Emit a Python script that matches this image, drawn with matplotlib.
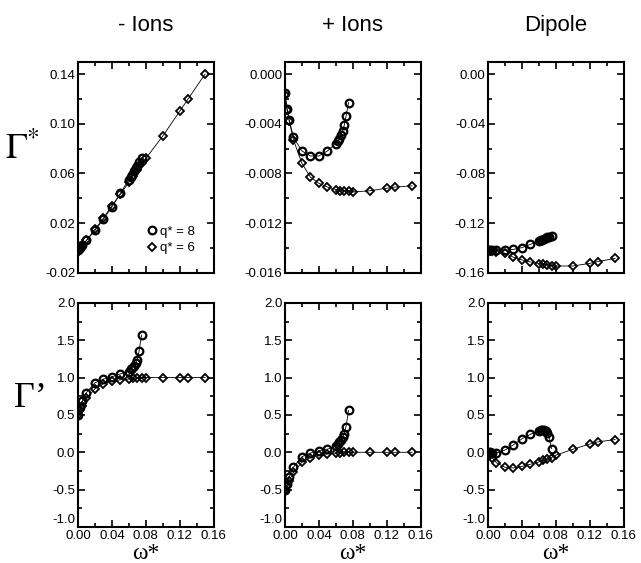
import matplotlib
matplotlib.use('Agg')
import matplotlib.pyplot as plt
import matplotlib.transforms as mtransforms
from matplotlib.ticker import MultipleLocator, FormatStrFormatter

plt.rcParams['font.family'] = 'Liberation Sans'
plt.rcParams['axes.unicode_minus'] = False
plt.rcParams['mathtext.fontset'] = 'stix'

# omega* values
w8 = [0, 0.0025, 0.005, 0.01, 0.02, 0.03, 0.04, 0.05, 0.06, 0.062, 0.064, 0.066, 0.068, 0.07, 0.072, 0.075]
w6 = [0, 0.0025, 0.005, 0.01, 0.02, 0.03, 0.04, 0.05, 0.06, 0.065, 0.07, 0.075, 0.08, 0.10, 0.12, 0.13, 0.15]

# Gamma* (top row)
gs_neg_8 = [-0.002, 0.0, 0.002, 0.006, 0.014, 0.023, 0.033, 0.044, 0.055, 0.057, 0.059, 0.062, 0.064, 0.066, 0.069, 0.072]
gs_neg_6 = [-0.003, -0.001, 0.001, 0.006, 0.015, 0.024, 0.034, 0.043, 0.053, 0.058, 0.063, 0.068, 0.072, 0.090, 0.110, 0.120, 0.140]
gs_pos_8 = [-0.0015, -0.0028, -0.0037, -0.0051, -0.0062, -0.0066, -0.0066, -0.0062, -0.0056, -0.0054, -0.0052, -0.0049, -0.0046, -0.0041, -0.0034, -0.0023]
gs_pos_6 = [-0.0017, -0.0029, -0.0038, -0.0053, -0.0072, -0.0083, -0.0088, -0.0091, -0.0093, -0.0094, -0.0094, -0.0094, -0.0095, -0.0094, -0.0092, -0.0091, -0.0090]
gs_dip_8 = [-0.142, -0.142, -0.142, -0.142, -0.1418, -0.1412, -0.1398, -0.1372, -0.1345, -0.134, -0.1333, -0.1325, -0.132, -0.1315, -0.131, -0.1305]
gs_dip_6 = [-0.142, -0.1422, -0.1425, -0.143, -0.1443, -0.1475, -0.1497, -0.1513, -0.1526, -0.153, -0.1535, -0.1545, -0.1546, -0.1546, -0.1525, -0.151, -0.1485]

# Gamma' (bottom row)
gp_neg_8 = [0.5, 0.6, 0.68, 0.8, 0.93, 0.98, 1.01, 1.05, 1.08, 1.11, 1.13, 1.16, 1.2, 1.24, 1.35, 1.57]
gp_neg_6 = [0.5, 0.57, 0.62, 0.72, 0.85, 0.92, 0.95, 0.97, 0.98, 0.99, 1.0, 1.0, 1.0, 1.0, 1.0, 1.0, 1.0]
gp_pos_8 = [-0.5, -0.42, -0.33, -0.2, -0.06, -0.01, 0.02, 0.04, 0.09, 0.11, 0.14, 0.17, 0.2, 0.25, 0.34, 0.56]
gp_pos_6 = [-0.5, -0.45, -0.38, -0.27, -0.13, -0.07, -0.04, -0.02, -0.01, -0.01, 0.0, 0.0, 0.0, 0.0, 0.0, 0.0, 0.0]
gp_dip_8 = [0.0, 0.0, -0.01, -0.01, 0.03, 0.1, 0.18, 0.24, 0.29, 0.3, 0.3, 0.3, 0.29, 0.26, 0.2, 0.05]
gp_dip_6 = [0.0, -0.03, -0.07, -0.14, -0.2, -0.21, -0.19, -0.16, -0.13, -0.11, -0.09, -0.07, -0.04, 0.04, 0.11, 0.14, 0.17]

titles = ['- Ions', '+ Ions', 'Dipole']
top_data = [(gs_neg_8, gs_neg_6), (gs_pos_8, gs_pos_6), (gs_dip_8, gs_dip_6)]
bot_data = [(gp_neg_8, gp_neg_6), (gp_pos_8, gp_pos_6), (gp_dip_8, gp_dip_6)]
top_lims = [(-0.02, 0.15), (-0.016, 0.001), (-0.16, 0.01)]
top_major = [0.04, 0.004, 0.04]
top_fmt = ['%.2f', '%.3f', '%.2f']
top_first = [-0.02, -0.016, -0.16]

fig = plt.figure(figsize=(6.41, 5.63), dpi=100)
lefts = [0.1217, 0.4446, 0.7613]
w = 0.2115


def style(ax):
    ax.set_xlim(0, 0.16)
    ax.xaxis.set_major_locator(MultipleLocator(0.04))
    ax.xaxis.set_minor_locator(MultipleLocator(0.02))
    ax.xaxis.set_major_formatter(FormatStrFormatter('%.2f'))
    ax.tick_params(which='both', direction='in', top=True, right=True, labelsize=9.5, width=1.2)
    ax.tick_params(which='major', length=5, pad=2)
    ax.tick_params(which='minor', length=3)
    for s in ax.spines.values():
        s.set_linewidth(1.5)


def draw(ax, y8, y6):
    ax.plot(w6, y6, '-', color='black', lw=0.6)
    ax.plot(w8, y8, '-', color='black', lw=0.6)
    ax.plot(w8, y8, 'o', mfc='none', mec='black', mew=1.6, ms=5.5, label='q* = 8')
    ax.plot(w6, y6, 'D', mfc='none', mec='black', mew=1.3, ms=4, label='q* = 6')


for i in range(3):
    ax = fig.add_axes([lefts[i], 0.5156, w, 0.375])
    draw(ax, *top_data[i])
    style(ax)
    ax.set_ylim(*top_lims[i])
    ax.yaxis.set_major_locator(MultipleLocator(top_major[i], offset=top_first[i]))
    ax.yaxis.set_minor_locator(MultipleLocator(top_major[i] / 2))
    ax.yaxis.set_major_formatter(FormatStrFormatter(top_fmt[i]))
    ax.tick_params(labelbottom=False)
    ax.set_title(titles[i], fontsize=16, pad=22)
    if i == 0:
        ax.set_ylabel(r'$\Gamma^{*}$', fontsize=26, rotation=0, labelpad=16)
        ax.legend(loc='lower right', frameon=False, fontsize=9.5, handlelength=0.6,
                  handletextpad=0.3, labelspacing=0.3, borderaxespad=1.0)

    ax = fig.add_axes([lefts[i], 0.064, w, 0.398])
    draw(ax, *bot_data[i])
    style(ax)
    ax.set_ylim(-1, 2)
    ax.yaxis.set_major_locator(MultipleLocator(0.5))
    ax.yaxis.set_minor_locator(MultipleLocator(0.25))
    ax.yaxis.set_major_formatter(FormatStrFormatter('%.1f'))
    ax.set_xlabel('ω*', fontsize=17, family='Liberation Serif', labelpad=1)
    if i == 0:
        ax.set_ylabel('Γ’', fontsize=26, family='Liberation Serif', rotation=0, labelpad=16)
    # the -1.0 label sits a little above its tick, as in the original
    fig.canvas.draw()
    lab = ax.get_yticklabels()[0]
    for lab in ax.get_yticklabels():
        if lab.get_text() == '-1.0':
            lab.set_transform(lab.get_transform() + mtransforms.ScaledTranslation(0, 6 / 72, fig.dpi_scale_trans))

fig.savefig('out.png', dpi=100)
